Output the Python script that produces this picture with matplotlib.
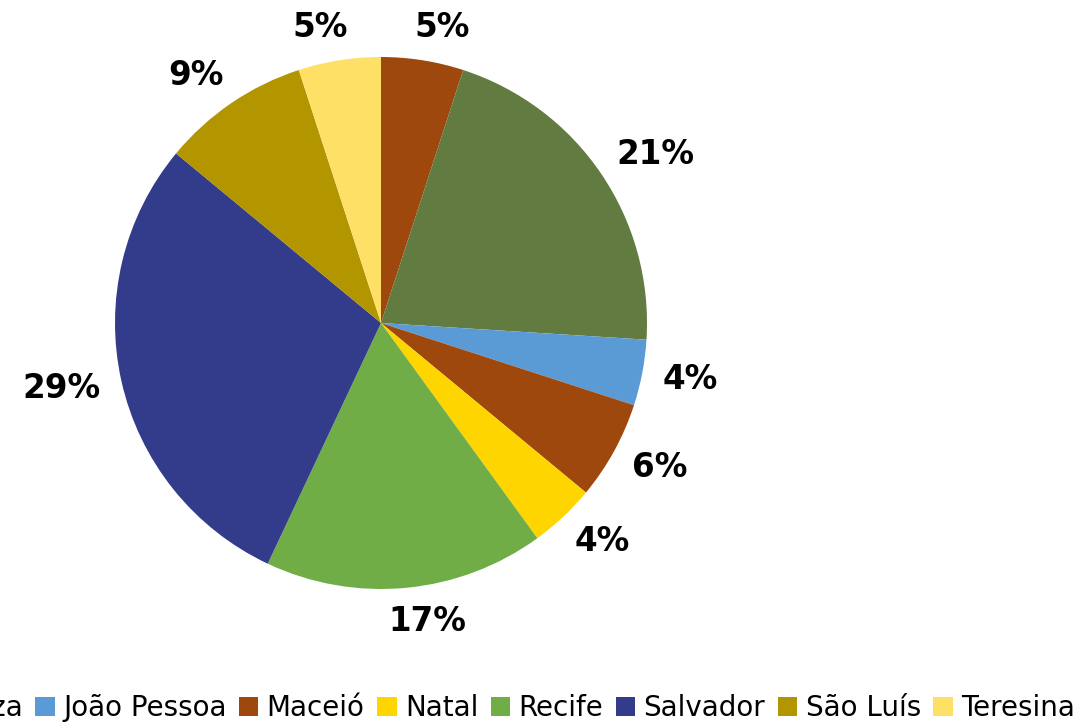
import numpy as np
import matplotlib
matplotlib.use("Agg")
import matplotlib.pyplot as plt

# share of each capital (percent), clockwise from the top
cities = ["Aracaju", "Fortaleza", "João Pessoa", "Maceió", "Natal",
          "Recife", "Salvador", "São Luís", "Teresina"]
shares = [5, 21, 4, 6, 4, 17, 29, 9, 5]
colors = ["#9E480E", "#617B40", "#5B9BD5", "#9E480E", "#FFD500",
          "#70AD47", "#333C8A", "#B39500", "#FFE066"]

plt.rcParams['font.family'] = ['DejaVu Sans']

fig = plt.figure(figsize=(10.79, 7.27), dpi=100)
cx, cy, r = 381, 323, 266
ax = fig.add_axes([(cx - r) / 1079, (727 - cy - r) / 727, 2 * r / 1079, 2 * r / 727])

wedges, texts, autotexts = ax.pie(
    shares, colors=colors, startangle=90, counterclock=False,
    autopct='%1.0f%%', pctdistance=1.15, radius=1.0,
    wedgeprops=dict(linewidth=0),
    textprops=dict(fontsize=23.5, fontweight='bold', color='black'))
ax.set_xlim(-1, 1)
ax.set_ylim(-1, 1)
ax.set_aspect('equal')
ax.axis('off')

# push each label just outside the rim, like the spreadsheet "outside end"
fig.canvas.draw()
inv = ax.transData.inverted()
gap = 0.08
for w, t in zip(wedges, autotexts):
    th = np.deg2rad((w.theta1 + w.theta2) / 2)
    c, s = np.cos(th), np.sin(th)
    bb = t.get_window_extent()
    (x0, y0), (x1, y1) = inv.transform([[bb.x0, bb.y0], [bb.x1, bb.y1]])
    hw, hh = (x1 - x0) / 2, (y1 - y0) / 2 * 0.75
    t.set_position(((1 + gap) * c + hw * np.sign(c) * abs(c) ** 0.3,
                    (1 + gap) * s + hh * s))
    t.set_ha('center')
    t.set_va('center')

fig.legend(wedges, cities, loc='center right',
           bbox_to_anchor=(1075 / 1079, 1 - 708 / 727),
           ncol=len(cities), frameon=False, fontsize=20,
           handlelength=0.7, handleheight=0.7, handletextpad=0.3,
           columnspacing=0.45, borderaxespad=0, borderpad=0)

fig.savefig('out.png', dpi=100)
